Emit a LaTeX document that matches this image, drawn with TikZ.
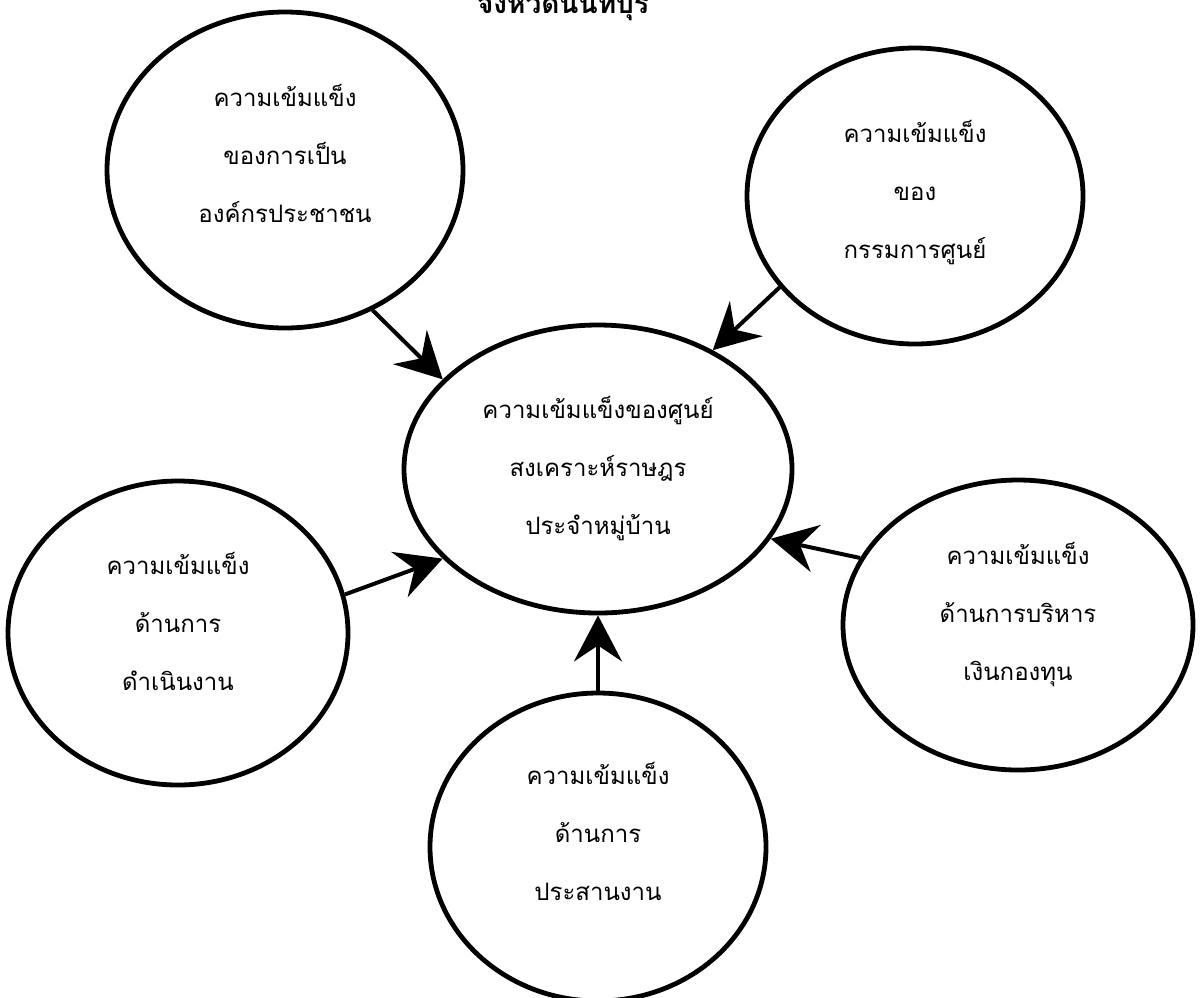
\documentclass[tikz,border=0pt]{standalone}
\usepackage{fontspec}
\newfontfamily\thaifont[Script=Thai]{Loma}
\usetikzlibrary{shapes.geometric,arrows.meta}
\begin{document}
\begin{tikzpicture}[x=0.5pt,y=-0.5pt,
  bub/.style={ellipse, draw, line width=2.4pt, inner sep=0pt, align=center,
    font=\thaifont\fontsize{12}{29}\selectfont},
  arr/.style={line width=2pt, -{Stealth[length=23pt,width=24pt,inset=8pt]}},
  ttl/.style={anchor=base, font=\thaifont\bfseries\fontsize{14}{18}\selectfont}]
\useasboundingbox (0,0) rectangle (1202,997);
\node[ttl] (title) at (563,13) {จังหวัดนนทบุรี};
\node[bub, minimum width=178pt, minimum height=158pt, text depth=17pt] (TL) at (285,170)
  {ความเข้มแข็ง\\ของการเป็น\\องค์กรประชาชน};
\node[bub, minimum width=168pt, minimum height=148pt, text depth=7pt] (TR) at (915,196)
  {ความเข้มแข็ง\\ของ\\กรรมการศูนย์};
\node[bub, minimum width=194pt, minimum height=144pt] (C) at (598,469)
  {ความเข้มแข็งของศูนย์\\สงเคราะห์ราษฎร\\ประจำหมู่บ้าน};
\node[bub, minimum width=170pt, minimum height=152pt, text depth=12pt] (L) at (178,633)
  {ความเข้มแข็ง\\ด้านการ\\ดำเนินงาน};
\node[bub, minimum width=175pt, minimum height=145pt, text depth=14pt] (R) at (1018,625)
  {ความเข้มแข็ง\\ด้านการบริหาร\\เงินกองทุน};
\node[bub, minimum width=168pt, minimum height=154pt, text depth=16pt] (B) at (598,847)
  {ความเข้มแข็ง\\ด้านการ\\ประสานงาน};
\draw[arr] (TL.-58) -- (C.150);
\draw[arr] (TR.214) -- (C.46);
\draw[arr] (L.13) -- (C.210);
\draw[arr] (R.157) -- (C.-22);
\draw[arr] (B.north) -- (C.south);
\end{tikzpicture}
\end{document}
